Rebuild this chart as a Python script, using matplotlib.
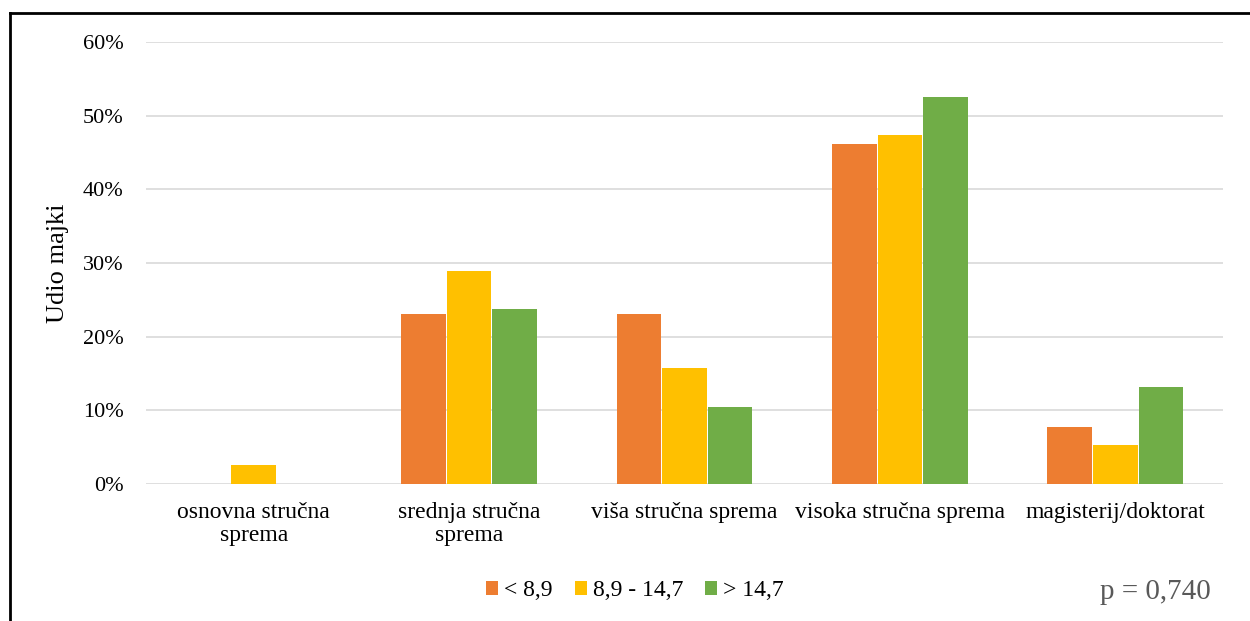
import numpy as np
import matplotlib.pyplot as plt
from matplotlib.patches import Patch
from matplotlib.lines import Line2D

categories = ["osnovna stručna\nsprema", "srednja stručna\nsprema", "viša stručna sprema",
              "visoka stručna sprema", "magisterij/doktorat"]
series_names = ["< 8,9", "8,9 - 14,7", "> 14,7"]
low = [0.0, 23.1, 23.1, 46.2, 7.7]
mid = [2.6, 28.9, 15.8, 47.4, 5.3]
high = [0.0, 23.7, 10.5, 52.6, 13.2]
colors = ["#ED7D31", "#FFC000", "#70AD47"]

plt.rcParams["font.family"] = ["Liberation Serif", "DejaVu Serif"]

fig = plt.figure(figsize=(12.5, 6.21), dpi=100)
ax = fig.add_axes([146 / 1250, 1 - 484 / 621, (1223 - 146) / 1250, (484 - 42) / 621])

x = np.arange(len(categories))
w = 0.207
for i, vals in enumerate([low, mid, high]):
    ax.bar(x + (i - 1) * (w + 0.005), vals, width=w, color=colors[i], zorder=3)

ax.set_xlim(-0.5, len(categories) - 0.5)
ax.set_ylim(0, 60)
ax.set_yticks(np.arange(0, 61, 10))
ax.set_yticklabels([f"{v}%" for v in range(0, 61, 10)], fontsize=16)
ax.set_xticks(x)
ax.set_xticklabels(categories, fontsize=17, linespacing=1.15)
ax.tick_params(axis="both", length=0)
ax.tick_params(axis="y", pad=16)
ax.tick_params(axis="x", pad=13)
ax.grid(axis="y", color="#D9D9D9", linewidth=1.2, zorder=0)
for s in ax.spines.values():
    s.set_visible(False)
ax.set_ylabel("Udio majki", fontsize=19, labelpad=10)

handles = [Patch(facecolor=c, edgecolor="none") for c in colors]
fig.legend(handles, series_names, loc="center", bbox_to_anchor=(0.508, 1 - 591 / 621),
           ncol=3, frameon=False, fontsize=17, handlelength=0.5, handleheight=0.5,
           handletextpad=0.25, columnspacing=0.95)

fig.text(1211 / 1250, 1 - 592 / 621, "p = 0,740", fontsize=21, color="#595959",
         ha="right", va="center")

# frame on the left and top edge
fig.add_artist(Line2D([10 / 1250, 10 / 1250], [0, 1 - 13 / 621], color="black", linewidth=2,
                      transform=fig.transFigure))
fig.add_artist(Line2D([10 / 1250, 1], [1 - 13 / 621, 1 - 13 / 621], color="black", linewidth=2,
                      transform=fig.transFigure))

fig.savefig("out.png", dpi=100)
